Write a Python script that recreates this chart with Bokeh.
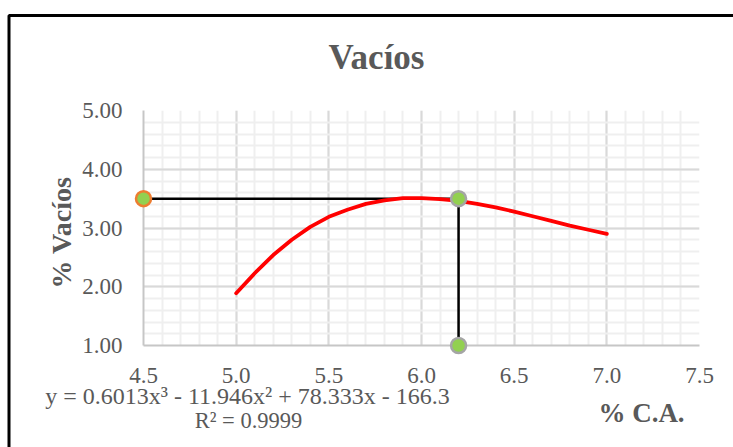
import math
from bokeh.plotting import figure
from bokeh.models import Range1d, FixedTicker
from bokeh.core.properties import value
from bokeh.embed import file_html
from bokeh.resources import INLINE

# ---- data (red curve, % C.A. vs % Vacíos) ----
pct_ca = [5.0, 5.1, 5.2, 5.3, 5.4, 5.5, 5.6, 5.7, 5.8, 5.9, 6.0,
          6.1, 6.2, 6.3, 6.4, 6.5, 6.6, 6.7, 6.8, 6.9, 7.0]
pct_vacios = [1.89, 2.23, 2.54, 2.80, 3.02, 3.19, 3.31, 3.41, 3.47, 3.51, 3.51,
              3.49, 3.46, 3.41, 3.35, 3.28, 3.20, 3.12, 3.04, 2.97, 2.90]

# design point lines and markers
target_ca = [4.5, 6.2, 6.2]
target_vac = [3.5, 3.5, 1.0]
target_outline = ["#ed7d31", "#a5a5a5", "#a5a5a5"]

x_ticks = [4.5, 5.0, 5.5, 6.0, 6.5, 7.0, 7.5]
x_tick_labels = ["4.5", "5.0", "5.5", "6.0", "6.5", "7.0", "7.5"]
y_ticks = [1.0, 2.0, 3.0, 4.0, 5.0]
y_tick_labels = ["1.00", "2.00", "3.00", "4.00", "5.00"]
x_minor_step = 0.1
y_minor_step = 0.2

title_text = "Vacíos"
x_title = "% C.A."
y_title = "% Vacíos"
equation = "y = 0.6013x³  - 11.946x²  + 78.333x  - 166.3"
r_squared = "R² = 0.9999"

SERIF = "Liberation Serif"
TXT = "#595959"

def key(t):
    return int(t) if float(t).is_integer() else t

x_minor = [round(x_ticks[0] + i * x_minor_step, 2)
           for i in range(int(round((x_ticks[-1] - x_ticks[0]) / x_minor_step)) + 1)]
y_minor = [round(y_ticks[0] + i * y_minor_step, 2)
           for i in range(int(round((y_ticks[-1] - y_ticks[0]) / y_minor_step)) + 1)]

W, H = 733, 447
L, R, T, B = 143, 34, 110, 102
X0, X1, Y0, Y1 = 4.5, 7.5, 1.0, 5.0

p = figure(width=W, height=H, x_range=Range1d(X0, X1), y_range=Range1d(Y0, Y1),
           output_backend="svg", toolbar_location=None,
           min_border_left=L, min_border_right=R, min_border_top=T, min_border_bottom=B)
p.outline_line_color = None
p.background_fill_color = "white"
p.border_fill_color = "white"

# pixel -> data conversion, used only to place texts / frame decoration
def dx(px):
    return X0 + (px - L) * (X1 - X0) / (W - L - R)

def dy(py):
    return Y1 - (py - T) * (Y1 - Y0) / (H - T - B)

for ax, ticks, minor, labels in ((p.xaxis[0], x_ticks, x_minor, x_tick_labels),
                                  (p.yaxis[0], y_ticks, y_minor, y_tick_labels)):
    ax.ticker = FixedTicker(ticks=ticks, minor_ticks=minor)
    ax.major_label_overrides = {key(t): lab for t, lab in zip(ticks, labels)}
    ax.major_tick_line_color = None
    ax.minor_tick_line_color = None
    ax.major_tick_out = 0
    ax.major_tick_in = 0
    ax.minor_tick_out = 0
    ax.minor_tick_in = 0
    ax.axis_line_color = "#c6c6c6"
    ax.axis_line_width = 2
    ax.major_label_text_font = SERIF
    ax.major_label_text_font_size = "23px"
    ax.major_label_text_color = TXT

p.yaxis.major_label_standoff = 21
p.xaxis.major_label_standoff = 22

for g in (p.xgrid[0], p.ygrid[0]):
    g.grid_line_color = "#d9d9d9"
    g.grid_line_width = 2
    g.minor_grid_line_color = "#efefef"
    g.minor_grid_line_width = 2

# reference lines
p.line(target_ca, target_vac, line_color="black", line_width=2.5)

# red curve
p.line(pct_ca, pct_vacios, line_color="#ff0000", line_width=3.8,
       line_cap="round", line_join="round")

# points
p.scatter(target_ca, target_vac, size=15, fill_color="#92d050",
          line_color=target_outline, line_width=2.5, level="overlay")

# texts (drawn as overlay-level text glyphs so they are not clipped to the frame)
def add_text(px, py, text, size, bold=False, angle=0.0, baseline="middle"):
    p.text(x=[dx(px)], y=[dy(py)], text=[text], angle=angle,
           text_align="center", text_baseline=baseline,
           text_font=value(SERIF), text_font_size=size,
           text_font_style="bold" if bold else "normal",
           text_color=TXT, level="overlay")

add_text(376, 57, title_text, "35px", bold=True)
add_text(61, 232, y_title, "28px", bold=True, angle=math.pi / 2)
add_text(641, 412, x_title, "27px", bold=True)
add_text(256, 395, equation, "24px")
add_text(248, 420, r_squared, "22.5px")

# outer chart border (left and top edges visible; the rest lies beyond the window)
p.line(x=[dx(8.5), dx(8.5), dx(W + 20)], y=[dy(H + 20), dy(15), dy(15)],
       line_color="black", line_width=3, level="overlay")

open("out.html", "w").write(file_html(p, INLINE))
